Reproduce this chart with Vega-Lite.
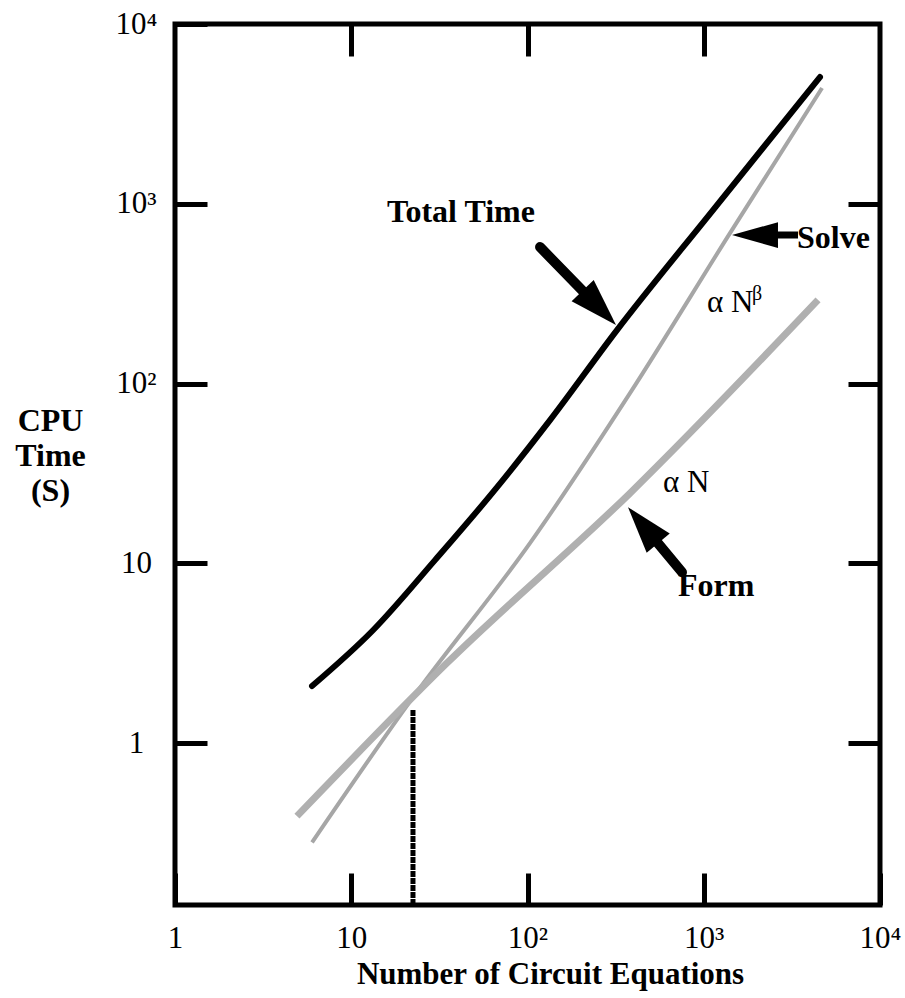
{
  "$schema": "https://vega.github.io/schema/vega-lite/v6.json",
  "width": 705,
  "height": 881,
  "autosize": {"type": "none"},
  "padding": {"left": 175, "top": 24, "right": 25, "bottom": 93},
  "background": "white",
  "config": {"view": {"stroke": "black", "strokeWidth": 5}, "font": "Liberation Serif"},
  "datasets": {
    "curves": [
      {"series": "Total Time", "N": 5.99, "t": 2.08},
      {"series": "Total Time", "N": 13.29, "t": 4.25},
      {"series": "Total Time", "N": 29.87, "t": 10.43},
      {"series": "Total Time", "N": 63.73, "t": 24.91},
      {"series": "Total Time", "N": 134.2, "t": 62.66},
      {"series": "Total Time", "N": 321.9, "t": 198.5},
      {"series": "Total Time", "N": 1128.6, "t": 923},
      {"series": "Total Time", "N": 4567, "t": 5072},
      {"series": "Solve", "N": 5.99, "t": 0.281},
      {"series": "Solve", "N": 22.4, "t": 1.8},
      {"series": "Solve", "N": 103.3, "t": 12.97},
      {"series": "Solve", "N": 381.6, "t": 88.5},
      {"series": "Solve", "N": 1409, "t": 687},
      {"series": "Solve", "N": 4690, "t": 4405},
      {"series": "Form", "N": 4.92, "t": 0.393},
      {"series": "Form", "N": 34.9, "t": 2.79},
      {"series": "Form", "N": 381.6, "t": 24.6},
      {"series": "Form", "N": 4450, "t": 292}
    ],
    "marker": [{"N": 22.4, "t0": 0.126, "t1": 1.53}],
    "shafts": [
      {"arrow": "Total", "N": 117.8, "t": 574.7, "N2": 241.5, "t2": 278.6},
      {"arrow": "Solve", "N": 3426, "t": 670, "N2": 2141, "t2": 670},
      {"arrow": "Form", "N": 752.6, "t": 8.94, "N2": 477.6, "t2": 15.29}
    ],
    "heads": [
      {"arrow": "Total", "N": 317.8, "t": 211.6},
      {"arrow": "Solve", "N": 1446, "t": 670},
      {"arrow": "Form", "N": 371.7, "t": 20.55}
    ],
    "labels": [
      {"kind": "bold", "label": "Total Time", "N": 15.96, "t": 791},
      {"kind": "bold", "label": "Solve", "N": 3381, "t": 567},
      {"kind": "bold", "label": "Form", "N": 714, "t": 6.58},
      {"kind": "plain", "label": "α N", "N": 587, "t": 24.9},
      {"kind": "plain", "label": "α N", "N": 1043, "t": 250},
      {"kind": "sup", "label": "β", "N": 1879, "t": 291}
    ]
  },
  "resolve": {"axis": {"x": "independent", "y": "independent"}},
  "layer": [
    {
      "data": {"name": "curves"},
      "transform": [{"filter": "datum.series == 'Total Time'"}],
      "mark": {"type": "line", "color": "black", "strokeWidth": 6, "strokeCap": "round", "interpolate": "monotone"},
      "encoding": {
        "x": {"field": "N", "type": "quantitative", "scale": {"type": "log", "domain": [1, 10000], "nice": false},
          "axis": {"orient": "bottom", "values": [1, 10, 100, 1000, 10000],
            "labelExpr": "datum.value == 1 ? '1' : datum.value == 10 ? '10' : datum.value == 100 ? '10²' : datum.value == 1000 ? '10³' : '10⁴'",
            "tickSize": -32, "tickWidth": 5, "tickColor": "black", "domain": false, "grid": false,
            "labelFont": "Liberation Serif", "labelFontSize": 31, "labelColor": "black", "labelPadding": 74,
            "labelBaseline": "alphabetic", "labelFlush": false, "labelOverlap": false,
            "title": "Number of Circuit Equations", "titleFont": "Liberation Serif", "titleFontSize": 31,
            "titleFontWeight": "bold", "titleColor": "black", "titleX": 375, "titleY": 78,
            "titleAlign": "center", "titleBaseline": "alphabetic"}},
        "y": {"field": "t", "type": "quantitative", "scale": {"type": "log", "domain": [0.126, 10000], "nice": false},
          "axis": {"orient": "left", "values": [1, 10, 100, 1000, 10000],
            "labelExpr": "datum.value == 1 ? '1' : datum.value == 10 ? '10' : datum.value == 100 ? '10²' : datum.value == 1000 ? '10³' : '10⁴'",
            "tickSize": -32, "tickWidth": 5, "tickColor": "black", "domain": false, "grid": false,
            "labelFont": "Liberation Serif", "labelFontSize": 31, "labelColor": "black", "labelPadding": 71,
            "labelAlign": "center", "labelBaseline": "alphabetic", "labelOffset": 9, "labelFlush": false, "labelOverlap": false,
            "title": ["CPU", "Time", "(S)"], "titleAngle": 0, "titleAlign": "center", "titleBaseline": "alphabetic",
            "titleX": -125, "titleY": 406, "titleLineHeight": 35, "titleFont": "Liberation Serif",
            "titleFontSize": 32, "titleFontWeight": "bold", "titleColor": "black"}}
      }
    },
    {
      "data": {"name": "curves"},
      "transform": [{"filter": "datum.series == 'Solve'"}],
      "mark": {"type": "line", "color": "#a6a6a6", "strokeWidth": 4, "interpolate": "monotone"},
      "encoding": {
        "x": {"field": "N", "type": "quantitative", "scale": {"type": "log", "domain": [1, 10000], "nice": false},
          "axis": {"orient": "top", "values": [10, 100, 1000], "labels": false, "title": null,
            "tickSize": -32, "tickWidth": 5, "tickColor": "black", "domain": false, "grid": false}},
        "y": {"field": "t", "type": "quantitative", "scale": {"type": "log", "domain": [0.126, 10000], "nice": false},
          "axis": {"orient": "right", "values": [1, 10, 100, 1000], "labels": false, "title": null,
            "tickSize": -32, "tickWidth": 5, "tickColor": "black", "domain": false, "grid": false}}
      }
    },
    {
      "data": {"name": "curves"},
      "transform": [{"filter": "datum.series == 'Form'"}],
      "mark": {"type": "line", "color": "#b0b0b0", "strokeWidth": 7, "interpolate": "monotone"},
      "encoding": {
        "x": {"field": "N", "type": "quantitative", "scale": {"type": "log", "domain": [1, 10000], "nice": false}, "axis": null},
        "y": {"field": "t", "type": "quantitative", "scale": {"type": "log", "domain": [0.126, 10000], "nice": false}, "axis": null}
      }
    },
    {
      "data": {"name": "marker"},
      "mark": {"type": "rule", "color": "black", "strokeWidth": 5, "strokeDash": [6, 1]},
      "encoding": {
        "x": {"field": "N", "type": "quantitative", "scale": {"type": "log", "domain": [1, 10000], "nice": false}, "axis": null},
        "y": {"field": "t0", "type": "quantitative", "scale": {"type": "log", "domain": [0.126, 10000], "nice": false}, "axis": null},
        "y2": {"field": "t1"}
      }
    },
    {
      "data": {"name": "shafts"},
      "transform": [{"filter": "datum.arrow != 'Solve'"}],
      "mark": {"type": "rule", "color": "black", "strokeWidth": 10, "strokeCap": "round"},
      "encoding": {
        "x": {"field": "N", "type": "quantitative", "scale": {"type": "log", "domain": [1, 10000], "nice": false}, "axis": null},
        "y": {"field": "t", "type": "quantitative", "scale": {"type": "log", "domain": [0.126, 10000], "nice": false}, "axis": null},
        "x2": {"field": "N2"},
        "y2": {"field": "t2"}
      }
    },
    {
      "data": {"name": "shafts"},
      "transform": [{"filter": "datum.arrow == 'Solve'"}],
      "mark": {"type": "rule", "color": "black", "strokeWidth": 7, "strokeCap": "butt"},
      "encoding": {
        "x": {"field": "N", "type": "quantitative", "scale": {"type": "log", "domain": [1, 10000], "nice": false}, "axis": null},
        "y": {"field": "t", "type": "quantitative", "scale": {"type": "log", "domain": [0.126, 10000], "nice": false}, "axis": null},
        "x2": {"field": "N2"},
        "y2": {"field": "t2"}
      }
    },
    {
      "data": {"name": "heads"},
      "transform": [{"filter": "datum.arrow == 'Total'"}],
      "mark": {"type": "point", "shape": "M0,0L-0.32,1L0.32,1Z", "filled": true, "color": "black", "opacity": 1, "size": 9216, "angle": 136, "strokeWidth": 0},
      "encoding": {
        "x": {"field": "N", "type": "quantitative", "scale": {"type": "log", "domain": [1, 10000], "nice": false}, "axis": null},
        "y": {"field": "t", "type": "quantitative", "scale": {"type": "log", "domain": [0.126, 10000], "nice": false}, "axis": null}
      }
    },
    {
      "data": {"name": "heads"},
      "transform": [{"filter": "datum.arrow == 'Solve'"}],
      "mark": {"type": "point", "shape": "M0,0L-0.28,1L0.28,1Z", "filled": true, "color": "black", "opacity": 1, "size": 8464, "angle": 270, "strokeWidth": 0},
      "encoding": {
        "x": {"field": "N", "type": "quantitative", "scale": {"type": "log", "domain": [1, 10000], "nice": false}, "axis": null},
        "y": {"field": "t", "type": "quantitative", "scale": {"type": "log", "domain": [0.126, 10000], "nice": false}, "axis": null}
      }
    },
    {
      "data": {"name": "heads"},
      "transform": [{"filter": "datum.arrow == 'Form'"}],
      "mark": {"type": "point", "shape": "M0,0L-0.32,1L0.32,1Z", "filled": true, "color": "black", "opacity": 1, "size": 8836, "angle": 320, "strokeWidth": 0},
      "encoding": {
        "x": {"field": "N", "type": "quantitative", "scale": {"type": "log", "domain": [1, 10000], "nice": false}, "axis": null},
        "y": {"field": "t", "type": "quantitative", "scale": {"type": "log", "domain": [0.126, 10000], "nice": false}, "axis": null}
      }
    },
    {
      "data": {"name": "labels"},
      "transform": [{"filter": "datum.kind == 'bold'"}],
      "mark": {"type": "text", "align": "left", "baseline": "alphabetic", "font": "Liberation Serif", "fontSize": 32, "fontWeight": "bold", "color": "black"},
      "encoding": {
        "x": {"field": "N", "type": "quantitative", "scale": {"type": "log", "domain": [1, 10000], "nice": false}, "axis": null},
        "y": {"field": "t", "type": "quantitative", "scale": {"type": "log", "domain": [0.126, 10000], "nice": false}, "axis": null},
        "text": {"field": "label"}
      }
    },
    {
      "data": {"name": "labels"},
      "transform": [{"filter": "datum.kind == 'plain'"}],
      "mark": {"type": "text", "align": "left", "baseline": "alphabetic", "font": "Liberation Serif", "fontSize": 31, "color": "black"},
      "encoding": {
        "x": {"field": "N", "type": "quantitative", "scale": {"type": "log", "domain": [1, 10000], "nice": false}, "axis": null},
        "y": {"field": "t", "type": "quantitative", "scale": {"type": "log", "domain": [0.126, 10000], "nice": false}, "axis": null},
        "text": {"field": "label"}
      }
    },
    {
      "data": {"name": "labels"},
      "transform": [{"filter": "datum.kind == 'sup'"}],
      "mark": {"type": "text", "align": "left", "baseline": "alphabetic", "font": "Liberation Serif", "fontSize": 20, "color": "black"},
      "encoding": {
        "x": {"field": "N", "type": "quantitative", "scale": {"type": "log", "domain": [1, 10000], "nice": false}, "axis": null},
        "y": {"field": "t", "type": "quantitative", "scale": {"type": "log", "domain": [0.126, 10000], "nice": false}, "axis": null},
        "text": {"field": "label"}
      }
    }
  ]
}
